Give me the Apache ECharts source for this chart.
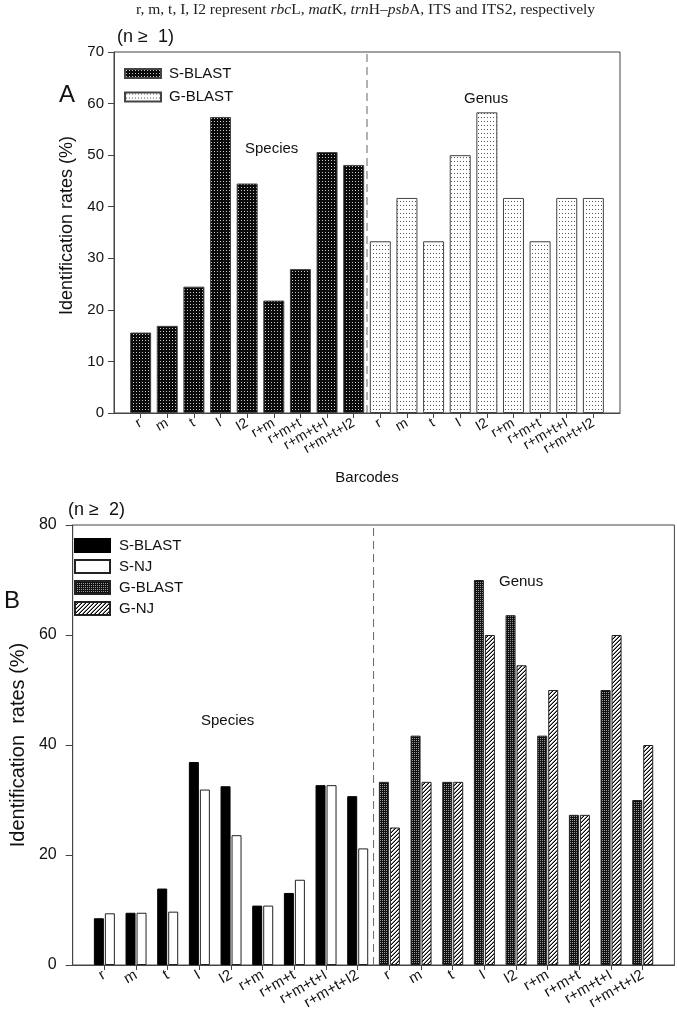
<!DOCTYPE html>
<html><head><meta charset="utf-8">
<script src="https://cdn.jsdelivr.net/npm/echarts@6/dist/echarts.min.js"></script>
<style>html,body{margin:0;padding:0;background:#fff}#c{width:677px;height:1014px}</style>
</head><body><div id="c"></div>
<script>
// ---------- data ----------
const barcodes = ['r','m','t','I','I2','r+m','r+m+t','r+m+t+I','r+m+t+I2'];
// Panel A (n >= 1)
const aSpeciesBlast = [15.6, 16.9, 24.5, 57.4, 44.5, 21.8, 27.9, 50.6, 48.1];
const aGenusBlast   = [33.3, 41.7, 33.3, 50.0, 58.3, 41.7, 33.3, 41.7, 41.7];
// Panel B (n >= 2)
const bSpeciesBlast = [8.5, 9.5, 13.9, 36.9, 32.5, 10.8, 13.1, 32.7, 30.7];
const bSpeciesNJ    = [9.4, 9.5, 9.7, 31.9, 23.6, 10.8, 15.5, 32.7, 21.2];
const bGenusBlast   = [33.3, 41.7, 33.3, 70.0, 63.6, 41.7, 27.3, 50.0, 30.0];
const bGenusNJ      = [25.0, 33.3, 33.3, 60.0, 54.5, 50.0, 27.3, 60.0, 40.0];
const aYTicks = {min: 0, max: 70, interval: 10};
const bYTicks = {min: 0, max: 80, interval: 20};

// ---------- helpers ----------
const N = barcodes.length;
const axisCats = [''].concat(barcodes, barcodes, ['']);
const blank = n => Array(n).fill('-');
const speciesPart = arr => ['-'].concat(arr, blank(N), ['-']);
const genusPart = arr => ['-'].concat(blank(N), arr, ['-']);
const sepX = N - 0.5;

function pattern(w, h, bg, painter) {
  const c = document.createElement('canvas');
  c.width = w; c.height = h;
  const g = c.getContext('2d');
  g.fillStyle = bg; g.fillRect(0, 0, w, h);
  painter(g);
  return {image: c, repeat: 'repeat'};
}
const patDarkDots = pattern(3, 3, '#0a0a0a', g => { g.fillStyle = '#c8c8c8'; g.fillRect(1, 1, 1, 1); });
const patLightDots = pattern(3, 4, '#ffffff', g => { g.fillStyle = '#555'; g.fillRect(1, 1, 1, 1); });
const patMesh = pattern(2, 2, '#111', g => { g.fillStyle = '#9a9a9a'; g.fillRect(0, 0, 1, 1); });
const patHatch = pattern(4, 4, '#ffffff', g => {
  for (let x = 0; x < 4; x++) for (let y = 0; y < 4; y++) {
    const s = (x + y) % 4;
    if (s === 3) { g.fillStyle = '#000'; g.fillRect(x, y, 1, 1); }
    else if (s === 2) { g.fillStyle = '#888'; g.fillRect(x, y, 1, 1); }
  }
});

const FONT = 'Liberation Sans, Arial, sans-serif';
const axisColor = '#444';

function catAxis(grid, fontSize, rotate, name) {
  return {
    type: 'category', gridIndex: grid, data: axisCats, boundaryGap: false,
    axisLine: {onZero: false, lineStyle: {color: axisColor, width: 1}},
    axisTick: {interval: (i, v) => v !== '', length: 5, lineStyle: {color: axisColor}},
    axisLabel: {interval: 0, rotate: rotate, fontSize: fontSize, fontFamily: FONT, color: '#111', margin: 9},
    splitLine: {show: false},
    name: name || '', nameLocation: 'middle', nameGap: 57,
    nameTextStyle: {fontSize: 15, fontFamily: FONT, color: '#111'}
  };
}
function sepAxis(grid) {
  return {type: 'value', gridIndex: grid, min: -1, max: 2 * N, show: false};
}
function valAxis(grid, t, fontSize, name, nameStyle, nameGap, tickLen, margin) {
  return {
    type: 'value', gridIndex: grid, min: t.min, max: t.max, interval: t.interval,
    axisLine: {show: true, onZero: false, lineStyle: {color: axisColor, width: 1}},
    axisTick: {show: true, length: tickLen, lineStyle: {color: axisColor}},
    axisLabel: {fontSize: fontSize, fontFamily: FONT, color: '#111', margin: margin},
    splitLine: {show: false},
    name: name, nameLocation: 'middle', nameGap: nameGap,
    nameTextStyle: Object.assign({fontFamily: FONT, color: '#111'}, nameStyle)
  };
}
const sepStyle = {color: '#666', width: 1, type: [8, 5]};
const plain = (size) => ({fontFamily: FONT, fontSize: size, fontWeight: 'normal', color: '#111'});

const option = {
  animation: false,
  backgroundColor: '#fff',
  title: [
    {text: '{n|r, m, t, I, I2 represent }{i|rbc}{n|L, }{i|mat}{n|K, }{i|trn}{n|H–}{i|psb}{n|A, ITS and ITS2, respectively}',
     left: 134, top: 0, padding: 2,
     textStyle: {fontWeight: 'normal', rich: {
       n: {fontFamily: 'Liberation Serif, serif', fontSize: 15.5, fontWeight: 'normal', color: '#222'},
       i: {fontFamily: 'Liberation Serif, serif', fontSize: 15.5, fontWeight: 'normal', fontStyle: 'italic', color: '#222'}}}},
    {text: '(n ≥  1)', left: 112, top: 23, textStyle: plain(18)},
    {text: 'A', left: 54, top: 78, textStyle: plain(24)},
    {text: 'Species', left: 240, top: 136, textStyle: plain(15)},
    {text: 'Genus', left: 459, top: 86, textStyle: plain(15)},
    {text: '(n ≥  2)', left: 63, top: 496, textStyle: plain(18)},
    {text: 'B', left: -1, top: 584, textStyle: plain(24)},
    {text: 'Species', left: 196, top: 708, textStyle: plain(15)},
    {text: 'Genus', left: 494, top: 569, textStyle: plain(15)}
  ],
  legend: [
    {orient: 'vertical', left: 124, top: 66, padding: 0, icon: 'rect', itemWidth: 36, itemHeight: 9, itemGap: 8.5,
     data: ['S-BLAST', 'G-BLAST'].map(n => ({name: n})),
     textStyle: {fontFamily: FONT, fontSize: 15, color: '#111', padding: [0, 0, 0, 3]},
     selectedMode: false},
    {orient: 'vertical', left: 74, top: 538, padding: 0, icon: 'rect', itemWidth: 35, itemHeight: 13, itemGap: 6,
     data: ['S-BLAST ', 'S-NJ', 'G-BLAST ', 'G-NJ'].map(n => ({name: n})),
     textStyle: {fontFamily: FONT, fontSize: 15, color: '#111', padding: [0, 0, 0, 4]},
     selectedMode: false}
  ],
  grid: [
    {left: 114, top: 52, right: 57, height: 361, show: true, borderColor: axisColor, borderWidth: 1, backgroundColor: 'transparent'},
    {left: 64, top: 525, right: 2, height: 440, show: true, borderColor: axisColor, borderWidth: 1, backgroundColor: 'transparent'}
  ],
  xAxis: [
    catAxis(0, 14, 30, 'Barcodes'),
    sepAxis(0),
    catAxis(1, 15, 30, ''),
    sepAxis(1)
  ],
  yAxis: [
    valAxis(0, aYTicks, 15, 'Identification rates (%)', {fontSize: 18, padding: [0, 0, 0, 14]}, 37, 6, 10),
    valAxis(1, bYTicks, 16, 'Identification  rates (%)', {fontSize: 20}, 36, 7, 16)
  ],
  series: [
    {name: 'S-BLAST', type: 'bar', xAxisIndex: 0, yAxisIndex: 0, data: speciesPart(aSpeciesBlast),
     barWidth: 21, barGap: '-100%',
     itemStyle: {color: patDarkDots, borderColor: '#444', borderWidth: 1}},
    {name: 'G-BLAST', type: 'bar', xAxisIndex: 0, yAxisIndex: 0, data: genusPart(aGenusBlast),
     barWidth: 21, barGap: '-100%',
     itemStyle: {color: patLightDots, borderColor: '#444', borderWidth: 1}},
    {type: 'line', xAxisIndex: 1, yAxisIndex: 0, data: [[sepX, aYTicks.min], [sepX, aYTicks.max]],
     symbol: 'none', lineStyle: sepStyle, silent: true},

    {name: 'S-BLAST ', type: 'bar', xAxisIndex: 2, yAxisIndex: 1, stack: 'blast', data: speciesPart(bSpeciesBlast),
     barWidth: 10, barGap: '10%',
     itemStyle: {color: '#000', borderColor: '#000', borderWidth: 1}},
    {name: 'S-NJ', type: 'bar', xAxisIndex: 2, yAxisIndex: 1, stack: 'nj', data: speciesPart(bSpeciesNJ),
     barWidth: 10, barGap: '10%',
     itemStyle: {color: '#fff', borderColor: '#222', borderWidth: 1}},
    {name: 'G-BLAST ', type: 'bar', xAxisIndex: 2, yAxisIndex: 1, stack: 'blast', data: genusPart(bGenusBlast),
     barWidth: 10, barGap: '10%',
     itemStyle: {color: patMesh, borderColor: '#222', borderWidth: 1}},
    {name: 'G-NJ', type: 'bar', xAxisIndex: 2, yAxisIndex: 1, stack: 'nj', data: genusPart(bGenusNJ),
     barWidth: 10, barGap: '10%',
     itemStyle: {color: patHatch, borderColor: '#222', borderWidth: 1}},
    {type: 'line', xAxisIndex: 3, yAxisIndex: 1, data: [[sepX, bYTicks.min], [sepX, bYTicks.max]],
     symbol: 'none', lineStyle: sepStyle, silent: true}
  ]
};
const chart = echarts.init(document.getElementById('c'), null, {renderer: 'canvas'});
chart.setOption(option);
</script>
</body></html>
